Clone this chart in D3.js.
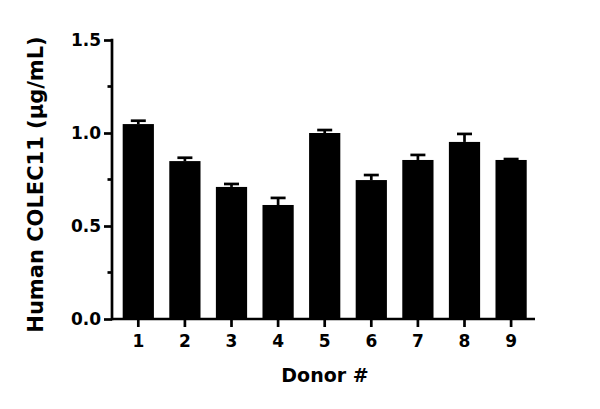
<!DOCTYPE html>
<html><head><meta charset="utf-8">
<script src="https://cdn.jsdelivr.net/npm/d3@7"></script>
<style>body{margin:0;background:#fff}svg{display:block}</style>
</head><body>
<svg id="c" width="600" height="409"></svg>
<script>
const categories = ["1","2","3","4","5","6","7","8","9"];
const means = [1.048, 0.849, 0.710, 0.613, 1.000, 0.747, 0.855, 0.952, 0.855];
const errors = [0.018, 0.018, 0.016, 0.038, 0.016, 0.027, 0.027, 0.043, 0.005];
const yTicks = [0, 0.5, 1.0, 1.5];
const yMinorTicks = [0.25, 0.75, 1.25];

const svg = d3.select("#c");
const font = "'DejaVu Sans', sans-serif";
const axX = 112, axR = 535, yTop = 40, yBot = 319;

const x = d3.scaleBand().domain(categories).range([115, 534.4]).paddingInner(0.33).paddingOuter(0.165);
const y = d3.scaleLinear().domain([0, 1.5]).range([yBot, yTop]);

// bars
svg.append("g").selectAll("rect").data(means).join("rect")
  .attr("x", (d,i) => x(categories[i]))
  .attr("y", d => y(d))
  .attr("width", x.bandwidth())
  .attr("height", d => yBot - y(d))
  .attr("fill", "#000");

// error bars
const eg = svg.append("g").attr("stroke", "#000").attr("stroke-width", 2.7);
means.forEach((m, i) => {
  const cx = x(categories[i]) + x.bandwidth()/2;
  eg.append("line").attr("x1", cx).attr("x2", cx).attr("y1", y(m)).attr("y2", y(m + errors[i]));
  eg.append("line").attr("x1", cx - 7.5).attr("x2", cx + 7.5).attr("y1", y(m + errors[i])).attr("y2", y(m + errors[i]));
});

// y axis
const yAxis = svg.append("g").attr("transform", `translate(${axX},0)`)
  .call(d3.axisLeft(y).tickValues(yTicks).tickFormat(d3.format(".1f")).tickSize(8).tickPadding(3));
yAxis.select(".domain").remove();
yAxis.selectAll(".tick line").attr("stroke-width", 2.7);
yAxis.selectAll("text").attr("font-family", font).attr("font-weight", "bold").attr("font-size", 17).attr("fill", "#000");
yAxis.append("g").selectAll("line").data(yMinorTicks).join("line")
  .attr("x1", -4.5).attr("x2", 0).attr("y1", d => y(d)).attr("y2", d => y(d))
  .attr("stroke", "#000").attr("stroke-width", 2.7);
svg.append("line").attr("x1", axX).attr("x2", axX).attr("y1", yTop - 1.3).attr("y2", yBot + 1.3)
  .attr("stroke", "#000").attr("stroke-width", 2.7);

// x axis
const xAxis = svg.append("g").attr("transform", `translate(0,${yBot})`)
  .call(d3.axisBottom(x).tickSize(8).tickPadding(8));
xAxis.select(".domain").remove();
xAxis.selectAll(".tick line").attr("stroke-width", 2.7);
xAxis.selectAll("text").attr("font-family", font).attr("font-weight", "bold").attr("font-size", 17).attr("fill", "#000");
svg.append("line").attr("x1", axX).attr("x2", axR).attr("y1", yBot).attr("y2", yBot)
  .attr("stroke", "#000").attr("stroke-width", 2.7);

// axis titles
svg.append("text").attr("x", 325).attr("y", 382).attr("text-anchor", "middle")
  .attr("font-family", font).attr("font-weight", "bold").attr("font-size", 19).text("Donor #");
svg.append("text").attr("transform", "translate(42.5,184.5) rotate(-90)").attr("text-anchor", "middle")
  .attr("font-family", font).attr("font-weight", "bold").attr("font-size", 21).text("Human COLEC11 (µg/mL)");
</script>
</body></html>
